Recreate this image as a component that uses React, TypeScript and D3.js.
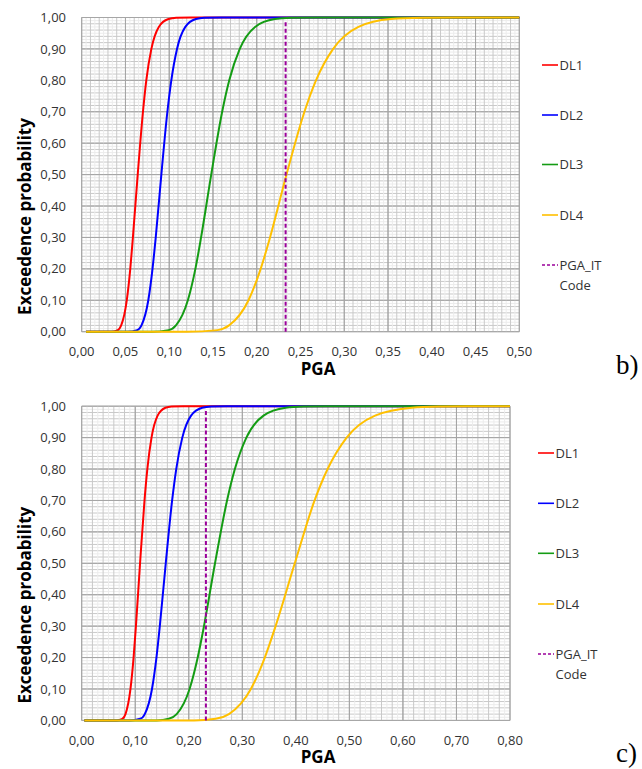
import React from "react";
import * as d3 from "d3";

// series names and colours
const seriesNames = ["DL1", "DL2", "DL3", "DL4"];
const seriesColors = ["#ff0000", "#0000ff", "#149c14", "#ffc000"];
const codeName = ["PGA_IT", "Code"];

// tick labels
const probTicks = [0, 0.1, 0.2, 0.3, 0.4, 0.5, 0.6, 0.7, 0.8, 0.9, 1.0];
const pgaTicksB = [0, 0.05, 0.1, 0.15, 0.2, 0.25, 0.3, 0.35, 0.4, 0.45, 0.5];
const pgaTicksC = [0, 0.1, 0.2, 0.3, 0.4, 0.5, 0.6, 0.7, 0.8];

// panel b) curves, [PGA, probability]
const dl1B: [number, number][] = [[0.005, 0], [0.035, 0], [0.0413, 0.005], [0.0451, 0.02], [0.0515, 0.1], [0.0555, 0.2], [0.0585, 0.3], [0.064, 0.5], [0.07, 0.7], [0.0738, 0.8], [0.0796, 0.9], [0.0881, 0.97], [0.0991, 0.995], [0.108, 0.999], [0.125, 1], [0.5, 1]];
const dl2B: [number, number][] = [[0.005, 0], [0.052, 0], [0.0634, 0.005], [0.0683, 0.02], [0.0761, 0.1], [0.0809, 0.2], [0.0846, 0.3], [0.091, 0.5], [0.0979, 0.7], [0.1024, 0.8], [0.1089, 0.9], [0.1184, 0.97], [0.1305, 0.995], [0.14, 0.999], [0.16, 1], [0.5, 1]];
const dl3B: [number, number][] = [[0.005, 0], [0.08, 0], [0.0993, 0.005], [0.1077, 0.02], [0.1213, 0.1], [0.1299, 0.2], [0.1364, 0.3], [0.148, 0.5], [0.1605, 0.7], [0.1686, 0.8], [0.1806, 0.9], [0.1981, 0.97], [0.2207, 0.995], [0.239, 0.999], [0.27, 1], [0.5, 1]];
const dl4B: [number, number][] = [[0.005, 0], [0.12, 0], [0.155, 0.005], [0.1684, 0.02], [0.1906, 0.1], [0.2045, 0.2], [0.2152, 0.3], [0.234, 0.5], [0.2545, 0.7], [0.2677, 0.8], [0.2873, 0.9], [0.3162, 0.97], [0.3533, 0.995], [0.39, 0.999], [0.44, 1], [0.5, 1]];
const pgaItB: [number, number][] = [[0.233, 0], [0.233, 0.993]];

// panel c) curves
const dl1C: [number, number][] = [[0.005, 0], [0.065, 0], [0.076, 0.005], [0.0818, 0.02], [0.0911, 0.1], [0.0969, 0.2], [0.1013, 0.3], [0.109, 0.5], [0.1173, 0.7], [0.1226, 0.8], [0.1304, 0.9], [0.1418, 0.97], [0.1563, 0.995], [0.168, 0.999], [0.19, 1], [0.8, 1]];
const dl2C: [number, number][] = [[0.005, 0], [0.09, 0], [0.1094, 0.005], [0.1178, 0.02], [0.1313, 0.1], [0.1396, 0.2], [0.1459, 0.3], [0.157, 0.5], [0.1689, 0.7], [0.1766, 0.8], [0.1879, 0.9], [0.2043, 0.97], [0.2251, 0.995], [0.242, 0.999], [0.27, 1], [0.8, 1]];
const dl3C: [number, number][] = [[0.005, 0], [0.14, 0], [0.1628, 0.005], [0.1774, 0.02], [0.2015, 0.1], [0.2167, 0.2], [0.2284, 0.3], [0.249, 0.5], [0.2715, 0.7], [0.2861, 0.8], [0.3076, 0.9], [0.3396, 0.97], [0.381, 0.995], [0.4146, 0.999], [0.46, 1], [0.8, 1]];
const dl4C: [number, number][] = [[0.005, 0], [0.21, 0], [0.2503, 0.005], [0.275, 0.02], [0.316, 0.1], [0.342, 0.2], [0.3622, 0.3], [0.398, 0.5], [0.435, 0.7], [0.4593, 0.8], [0.4949, 0.9], [0.548, 0.97], [0.617, 0.995], [0.673, 0.999], [0.72, 1], [0.8, 1]];
const pgaItC: [number, number][] = [[0.232, 0], [0.232, 0.985]];

const FONT = "'Open Sans', 'Noto Sans', sans-serif";
const fmt = (v: number) => d3.format(".2f")(v).replace(".", ",");

type PanelProps = {
  top: number;
  right: number;
  xMax: number;
  xTicks: number[];
  xMinor: number;
  xFine: number;
  curves: [number, number][][];
  code: [number, number][];
  legendX: number;
  legendY: number[];
  tag: string;
  tagY: number;
};

function Panel(props: PanelProps) {
  const { top, right, xMax, xTicks, xMinor, xFine, curves, code, legendX, legendY, tag, tagY } = props;
  const left = 81.7;
  const bottom = top + 314.2;

  const x = d3.scaleLinear().domain([0, xMax]).range([left, right]);
  const y = d3.scaleLinear().domain([0, 1]).range([bottom, top]);

  const line = d3.line<[number, number]>()
    .x(d => x(d[0]))
    .y(d => y(d[1]))
    .curve(d3.curveMonotoneX);

  const xMajorStep = xTicks[1] - xTicks[0];
  const nFine = Math.round(xMax / xFine);
  const vFine = d3.range(0, nFine + 1).map(i => i * xFine);
  const hFine = d3.range(0, 101).map(i => i / 100);

  const isMult = (v: number, s: number) => Math.abs(v / s - Math.round(v / s)) < 1e-6;

  return (
    <g>
      {/* gridlines */}
      {hFine.map((v, i) => {
        const c = isMult(v, 0.1) ? "#a6a6a6" : isMult(v, 0.02) ? "#c9c9c9" : "#ececec";
        return <line key={"h" + i} x1={left} x2={right} y1={y(v)} y2={y(v)} stroke={c} strokeWidth={1} />;
      })}
      {vFine.map((v, i) => {
        const c = isMult(v, xMajorStep) ? "#a6a6a6" : isMult(v, xMinor) ? "#c9c9c9" : "#ececec";
        return <line key={"v" + i} x1={x(v)} x2={x(v)} y1={top} y2={bottom} stroke={c} strokeWidth={1} />;
      })}
      {/* re-draw majors on top */}
      {probTicks.map((v, i) => (
        <line key={"hm" + i} x1={left} x2={right} y1={y(v)} y2={y(v)} stroke="#a6a6a6" strokeWidth={1} />
      ))}
      {xTicks.map((v, i) => (
        <line key={"vm" + i} x1={x(v)} x2={x(v)} y1={top} y2={bottom} stroke="#a6a6a6" strokeWidth={1} />
      ))}

      {/* curves */}
      {curves.map((c, i) => (
        <path key={"c" + i} d={line(c) || ""} fill="none" stroke={seriesColors[i]} strokeWidth={2} />
      ))}
      <path d={line(code) || ""} fill="none" stroke="#9a009a" strokeWidth={2} strokeDasharray="4,2.5" />

      {/* y tick labels */}
      {probTicks.map((v, i) => (
        <text key={"yl" + i} x={66} y={y(v) + 4.6} textAnchor="end" fontFamily={FONT} fontSize={13} fill="#333">
          {fmt(v)}
        </text>
      ))}
      {/* x tick labels */}
      {xTicks.map((v, i) => (
        <text key={"xl" + i} x={x(v)} y={bottom + 24.5} textAnchor="middle" fontFamily={FONT} fontSize={13} fill="#333">
          {fmt(v)}
        </text>
      ))}

      {/* axis titles */}
      <text x={318} y={bottom + 43} textAnchor="middle" fontFamily={FONT} fontSize={17} fontWeight="bold" fill="#000">
        PGA
      </text>
      <text
        transform={`translate(31,${top + 199}) rotate(-90)`}
        textAnchor="middle"
        fontFamily={FONT}
        fontSize={17}
        fontWeight="bold"
        fill="#000"
      >
        Exceedence probability
      </text>

      {/* legend */}
      {seriesNames.map((n, i) => (
        <g key={"lg" + i}>
          <line x1={legendX} x2={legendX + 16} y1={legendY[i]} y2={legendY[i]} stroke={seriesColors[i]} strokeWidth={1.6} />
          <text x={legendX + 17.5} y={legendY[i] + 4.7} fontFamily={FONT} fontSize={13} fill="#333">{n}</text>
        </g>
      ))}
      <g>
        <line x1={legendX} x2={legendX + 16} y1={legendY[4]} y2={legendY[4]} stroke="#9a009a" strokeWidth={1.6} strokeDasharray="3,2" />
        <text x={legendX + 17.5} y={legendY[4] + 4.7} fontFamily={FONT} fontSize={13} fill="#333">{codeName[0]}</text>
        <text x={legendX + 17.5} y={legendY[4] + 24.7} fontFamily={FONT} fontSize={13} fill="#333">{codeName[1]}</text>
      </g>

      {/* panel tag */}
      <text x={616} y={tagY} fontFamily="'Liberation Serif', 'DejaVu Serif', serif" fontSize={27} fill="#000">{tag}</text>
    </g>
  );
}

export default function App() {
  return (
    <svg width={642} height={769} style={{ position: "absolute", left: 0, top: 0, background: "#fff" }}>
      <rect x={0} y={0} width={642} height={769} fill="#fff" />
      <Panel
        top={17.5}
        right={519.3}
        xMax={0.5}
        xTicks={pgaTicksB}
        xMinor={0.01}
        xFine={0.005}
        curves={[dl1B, dl2B, dl3B, dl4B]}
        code={pgaItB}
        legendX={542}
        legendY={[65, 115, 164.5, 215, 265]}
        tag="b)"
        tagY={374}
      />
      <Panel
        top={406.2}
        right={510}
        xMax={0.8}
        xTicks={pgaTicksC}
        xMinor={0.02}
        xFine={0.01}
        curves={[dl1C, dl2C, dl3C, dl4C]}
        code={pgaItC}
        legendX={538}
        legendY={[453, 503.3, 553.3, 604, 654]}
        tag="c)"
        tagY={762}
      />
    </svg>
  );
}
